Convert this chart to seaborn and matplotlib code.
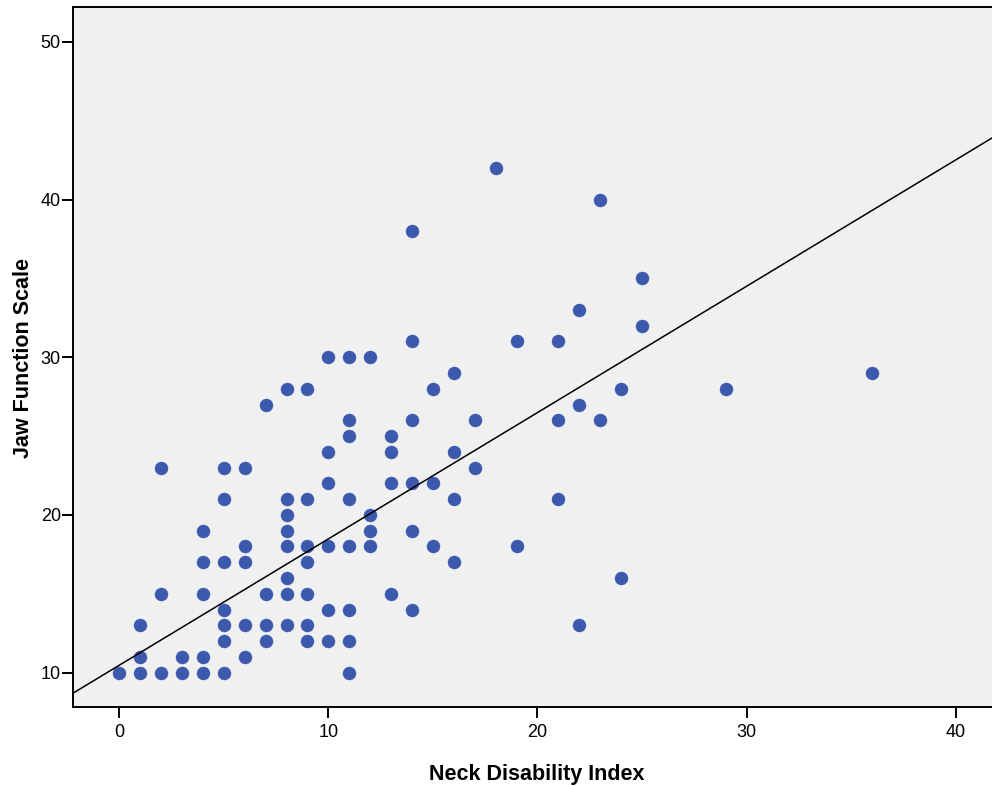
import matplotlib
matplotlib.use("Agg")
import matplotlib.pyplot as plt
import seaborn as sns
import pandas as pd

# Neck Disability Index scores and Jaw Function Scale scores per participant
neck_disability = (
    [0]
    + [1] * 3
    + [2] * 3
    + [3] * 2
    + [4] * 5
    + [5] * 7
    + [6] * 5
    + [7] * 4
    + [8] * 8
    + [9] * 7
    + [10] * 6
    + [11] * 8
    + [12] * 4
    + [13] * 4
    + [14] * 6
    + [15] * 3
    + [16] * 4
    + [17] * 2
    + [18]
    + [19] * 2
    + [21] * 3
    + [22] * 3
    + [23] * 2
    + [24] * 2
    + [25] * 2
    + [29]
    + [36]
)
jaw_function = [
    10,
    10, 11, 13,
    10, 15, 23,
    10, 11,
    10, 11, 15, 17, 19,
    10, 12, 13, 14, 17, 21, 23,
    11, 13, 17, 18, 23,
    12, 13, 15, 27,
    13, 15, 16, 18, 19, 20, 21, 28,
    12, 13, 15, 17, 18, 21, 28,
    12, 14, 18, 22, 24, 30,
    10, 12, 14, 18, 21, 25, 26, 30,
    18, 19, 20, 30,
    15, 22, 24, 25,
    14, 19, 22, 26, 31, 38,
    18, 22, 28,
    17, 21, 24, 29,
    23, 26,
    42,
    18, 31,
    21, 26, 31,
    13, 27, 33,
    26, 40,
    16, 28,
    32, 35,
    28,
    29,
]

# Linear fit line (total sample)
fit_intercept = 10.47
fit_slope = 0.801

x_ticks = [0, 10, 20, 30, 40]
y_ticks = [10, 20, 30, 40, 50]

df = pd.DataFrame({"Neck Disability Index": neck_disability,
                   "Jaw Function Scale": jaw_function})

sns.set_theme(style="white")
plt.rcParams["font.family"] = ["Liberation Sans", "DejaVu Sans"]
plt.rcParams.update({
    "text.color": "black",
    "axes.labelcolor": "black",
    "xtick.color": "black",
    "ytick.color": "black",
})

fig = plt.figure(figsize=(9.92, 7.86), dpi=100)
ax = fig.add_axes([0.0739, 0.0999, 1.0 - 0.0739, 0.8918])
ax.set_facecolor("#F0F0F0")

sns.scatterplot(data=df, x="Neck Disability Index", y="Jaw Function Scale",
                ax=ax, color="#3D59AD", s=88, edgecolor="#3D59AD",
                linewidth=0.3, zorder=3)

ax.axline((0, fit_intercept), slope=fit_slope, color="black", lw=1.1, zorder=4)

ax.set_xlim(-2.2, 41.74)
ax.set_ylim(7.79, 52.24)
ax.set_xticks(x_ticks)
ax.set_yticks(y_ticks)

for side in ["left", "top", "bottom"]:
    ax.spines[side].set_visible(True)
    ax.spines[side].set_color("black")
    ax.spines[side].set_linewidth(1.4)
ax.spines["right"].set_visible(False)

ax.tick_params(axis="x", direction="out", length=8, width=1.4, color="black",
               labelcolor="black", labelsize=13, pad=4, bottom=True, top=False)
ax.tick_params(axis="y", direction="out", length=8, width=1.4, color="black",
               labelcolor="black", labelsize=13, pad=1, left=True, right=False)

ax.set_xlabel("Neck Disability Index", fontsize=15.5, fontweight="bold")
ax.set_ylabel("Jaw Function Scale", fontsize=15.5, fontweight="bold")
ax.xaxis.set_label_coords(0.505, -0.081)
ax.yaxis.set_label_coords(-0.043, 0.498)

fig.savefig("out.png", dpi=100, facecolor="white")
